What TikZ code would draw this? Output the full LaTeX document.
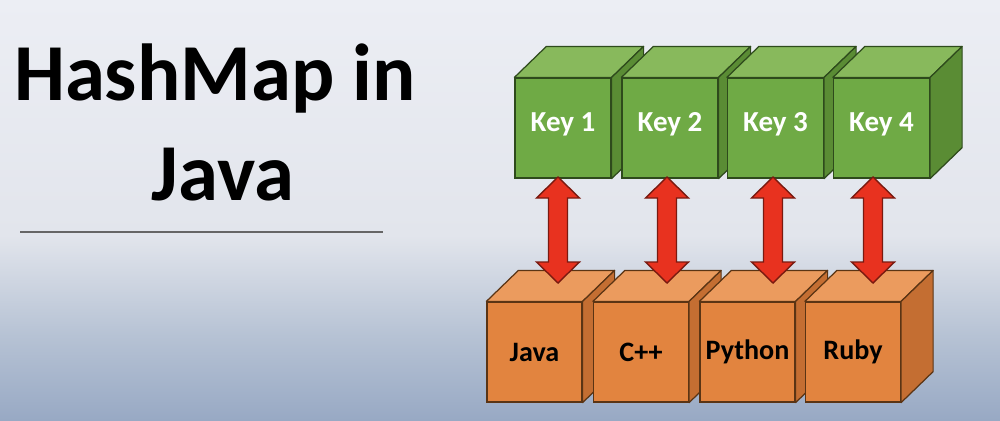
\documentclass[tikz,border=0pt]{standalone}
\usepackage{fontspec}
\setmainfont{Carlito}
\usetikzlibrary{calc}
\definecolor{bgtop}{HTML}{ECEEF4}
\definecolor{bgmid}{HTML}{E2E5EC}
\definecolor{bglow}{HTML}{B6C2D4}
\definecolor{bgbot}{HTML}{98A9C4}
\definecolor{gfrontc}{HTML}{6FAA45}
\definecolor{gtopc}{HTML}{88B95C}
\definecolor{gsidec}{HTML}{5A8C34}
\definecolor{gline}{HTML}{2E4A1C}
\definecolor{ofrontc}{HTML}{E2843F}
\definecolor{otopc}{HTML}{EB9B5E}
\definecolor{osidec}{HTML}{C46E32}
\definecolor{oline}{HTML}{5A3414}
\definecolor{redc}{HTML}{E8321F}
\definecolor{redline}{HTML}{7A1A10}
\pgfdeclareverticalshading{bgshade}{100bp}{color(0bp)=(bgbot); color(25bp)=(bgbot); color(35bp)=(bglow); color(47bp)=(bgmid); color(75bp)=(bgtop); color(100bp)=(bgtop)}
\tikzset{
  gfront/.style={draw=gline, fill=gfrontc, line width=0.7pt, minimum width=1.92cm, minimum height=2cm, inner sep=0pt, text=white, font=\fontsize{16.5}{18}\selectfont\bfseries},
  gtop/.style={draw=gline, fill=gtopc, line width=0.7pt, line join=round},
  gside/.style={draw=gline, fill=gsidec, line width=0.7pt, line join=round},
  ofront/.style={draw=oline, fill=ofrontc, line width=0.7pt, minimum width=1.9cm, minimum height=2cm, inner sep=0pt, text=black, font=\fontsize{16}{18}\selectfont\bfseries},
  otop/.style={draw=oline, fill=otopc, line width=0.7pt, line join=round},
  oside/.style={draw=oline, fill=osidec, line width=0.7pt, line join=round},
  redarrow/.style={draw=redline, fill=redc, line width=0.8pt, line join=miter},
  titlefont/.style={font=\fontsize{46}{50}\selectfont\bfseries, text=black, inner sep=0pt, anchor=base}
}
\newcommand{\gcube}[3]{%
  \node[gfront] (#1) at (#2) {\raisebox{2.2pt}[\height][\depth]{#3}};
  \draw[gtop] (#1.north west) -- ++(32,-31) -- ($(#1.north east)+(32,-31)$) -- (#1.north east) -- cycle;
  \draw[gside] (#1.north east) -- ++(32,-31) -- ($(#1.south east)+(32,-31)$) -- (#1.south east) -- cycle;
}
\newcommand{\ocube}[3]{%
  \node[ofront] (#1) at (#2) {#3};
  \draw[otop] (#1.north west) -- ++(32,-31) -- ($(#1.north east)+(32,-31)$) -- (#1.north east) -- cycle;
  \draw[oside] (#1.north east) -- ++(32,-31) -- ($(#1.south east)+(32,-31)$) -- (#1.south east) -- cycle;
}
\newcommand{\dblarrow}[2]{%
  \draw[redarrow] (#1) -- ($(#1)+(21.5,21)$) -- ($(#1)+(9.5,21)$) -- ($(#2)+(9.5,-21)$) -- ($(#2)+(21.5,-21)$) -- (#2) -- ($(#2)+(-21.5,-21)$) -- ($(#2)+(-9.5,-21)$) -- ($(#1)+(-9.5,21)$) -- ($(#1)+(-21.5,21)$) -- cycle;
}
\begin{document}
\begin{tikzpicture}[x=0.02cm, y=-0.02cm]
\useasboundingbox (0,0) rectangle (1000,420);
\shade[shading=bgshade] (0,0) rectangle (1000,420);
% title
\node[titlefont] (t1) at (215,100) {HashMap in};
\node[titlefont] (t2) at (223,200) {Java};
\coordinate (l1) at (20,232);
\coordinate (l2) at (383,232);
\draw[line width=1pt, color=black!60] (l1) -- (l2);
% green keys
\gcube{k1}{563,128}{Key 1}
\gcube{k2}{670,128}{Key 2}
\gcube{k3}{775.5,128}{Key 3}
\gcube{k4}{881.5,128}{Key 4}
% orange values
\ocube{v1}{534.5,352}{Java}
\ocube{v2}{641,352}{C++}
\ocube{v3}{747.5,352}{Python}
\ocube{v4}{853,352}{Ruby}
% arrows
\coordinate (a1t) at (558,177); \coordinate (a1b) at (558,283);
\coordinate (a2t) at (667,177); \coordinate (a2b) at (667,283);
\coordinate (a3t) at (773,177); \coordinate (a3b) at (773,283);
\coordinate (a4t) at (873,177); \coordinate (a4b) at (873,283);
\dblarrow{a1t}{a1b}
\dblarrow{a2t}{a2b}
\dblarrow{a3t}{a3b}
\dblarrow{a4t}{a4b}
\end{tikzpicture}
\end{document}
